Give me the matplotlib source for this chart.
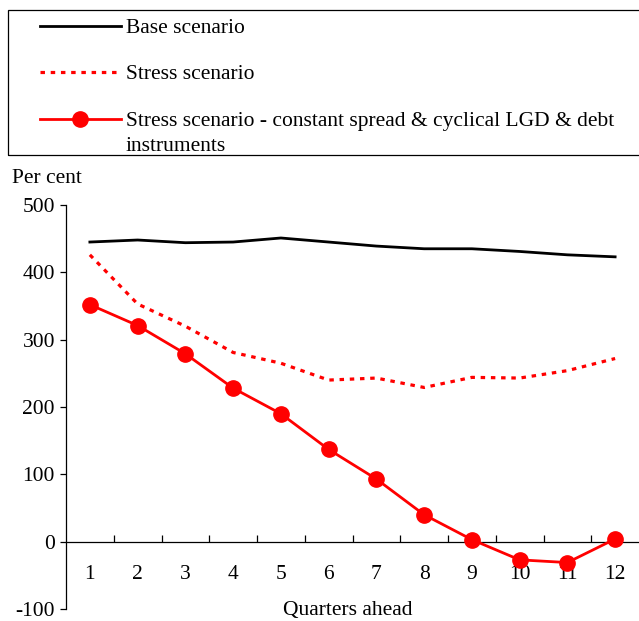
import matplotlib
matplotlib.use("Agg")
import matplotlib.pyplot as plt
from matplotlib.lines import Line2D
from matplotlib.patches import Rectangle
import numpy as np

plt.rcParams['font.family'] = ['Liberation Serif', 'DejaVu Serif']
plt.rcParams['font.size'] = 15.5
plt.rcParams['axes.unicode_minus'] = False

# data (per cent), quarters 1..12
quarters = [1, 2, 3, 4, 5, 6, 7, 8, 9, 10, 11, 12]
base = [445, 448, 444, 445, 451, 445, 439, 435, 435, 431, 426, 423]
stress = [426, 353, 320, 281, 265, 240, 243, 229, 244, 243, 254, 272]
stress_const = [352, 321, 279, 228, 190, 137, 93, 40, 3, -27, -31, 4]

labels = ["Base scenario", "Stress scenario",
          "Stress scenario - constant spread & cyclical LGD & debt\ninstruments"]

W, H = 639, 621
fig = plt.figure(figsize=(W / 100, H / 100), dpi=100)

def fx(px):
    return px / W

def fy(py):
    return 1 - py / H

ax = fig.add_axes([fx(66), fy(609), fx(639) - fx(66), fy(205) - fy(609)])

dash = (0, (1.4, 1.8))
ax.plot(quarters, base, color='black', lw=2.0, zorder=3)
ax.plot(quarters, stress, color='red', lw=2.3, linestyle=dash, zorder=3)
ax.plot(quarters, stress_const, color='red', lw=2.0, marker='o', markersize=11,
        markerfacecolor='red', markeredgecolor='red', zorder=4, clip_on=False)

ax.set_xlim(0.5, 12.5)
ax.set_ylim(-100, 500)
ax.set_yticks(np.arange(-100, 501, 100))
ax.set_xticks(quarters)
ax.set_xticks(np.arange(1.5, 12.5, 1), minor=True)

ax.spines['top'].set_visible(False)
ax.spines['right'].set_visible(False)
ax.spines['bottom'].set_position(('data', 0))
ax.spines['bottom'].set_linewidth(0.9)
ax.spines['left'].set_linewidth(0.9)

ax.tick_params(axis='x', which='major', length=0, pad=17)
ax.tick_params(axis='x', which='minor', direction='in', length=5, width=0.9)
ax.tick_params(axis='y', direction='out', length=4, width=0.9, pad=4)

fig.text(fx(12), fy(179), "Per cent", va='center', ha='left')
fig.text(fx(348), fy(610), "Quarters ahead", va='center', ha='center')

# legend box
fig.add_artist(Rectangle((fx(8), fy(155)), fx(700) - fx(8), fy(10) - fy(155),
                         transform=fig.transFigure, fill=False, edgecolor='black', lw=0.9))
rows = [26, 72, 119]
styles = [dict(color='black', lw=2.0),
          dict(color='red', lw=2.3, linestyle=dash),
          dict(color='red', lw=2.0)]
for r, st, lab in zip(rows, styles, labels):
    fig.add_artist(Line2D([fx(40), fx(121)], [fy(r), fy(r)], transform=fig.transFigure, **st))
    fig.text(fx(126), fy(r - 7), lab, va='top', ha='left', linespacing=1.45)
fig.add_artist(Line2D([fx(80)], [fy(119)], transform=fig.transFigure, marker='o',
                      markersize=11, color='red'))

fig.savefig("out.png", dpi=100)
